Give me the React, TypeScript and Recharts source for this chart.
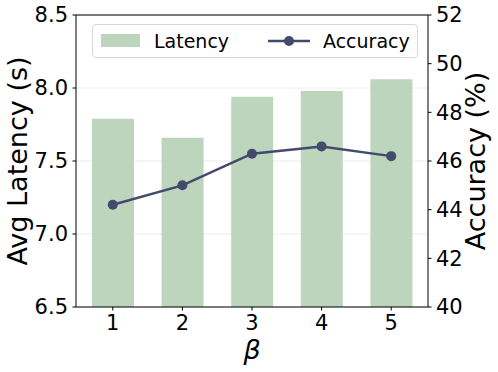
import { Bar, CartesianGrid, ComposedChart, Label, Line, ReferenceLine, XAxis, YAxis } from "recharts";

// values
const betas = ["1", "2", "3", "4", "5"];
const latency = [7.79, 7.66, 7.94, 7.98, 8.06];
const accuracy = [44.2, 45.0, 46.3, 46.6, 46.2];
const latencyTicks = [6.5, 7.0, 7.5, 8.0, 8.5];
const accuracyTicks = [40, 42, 44, 46, 48, 50, 52];
const seriesNames = ["Latency", "Accuracy"];

const barColor = "#bdd4bd";
const lineColor = "#444a6e";
const font = "DejaVu Sans, sans-serif";

const data = betas.map((b, i) => ({ beta: b, Latency: latency[i], Accuracy: accuracy[i] }));

const tickStyle = { fontSize: 21, fill: "#000", fontFamily: font };

// legend drawn as an overlay so it doesn't eat into the plot area
function LegendBox() {
    const txt: any = { position: "absolute", top: 3, fontSize: 19, fontFamily: font, color: "#000", lineHeight: "26px" };
    return (
        <div style={{ position: "absolute", left: 92, top: 24, width: 324, height: 32, border: "1px solid #d6d6d6", borderRadius: 4, background: "rgba(255,255,255,0.85)" }}>
            <div style={{ position: "absolute", left: 8, top: 9, width: 39, height: 13, background: barColor }} />
            <span style={{ ...txt, left: 61 }}>{seriesNames[0]}</span>
            <svg style={{ position: "absolute", left: 174, top: 6 }} width={44} height={20}>
                <line x1={1} y1={10} x2={43} y2={10} stroke={lineColor} strokeWidth={2.5} />
                <circle cx={22} cy={10} r={5} fill={lineColor} />
            </svg>
            <span style={{ ...txt, left: 230 }}>{seriesNames[1]}</span>
        </div>
    );
}

export default function App() {
    return (
        <div style={{ position: "absolute", left: 0, top: 0, width: 498, height: 372, background: "#fff" }}>
            <ComposedChart width={498} height={372} data={data} margin={{ top: 15, right: 0, bottom: 0, left: 0 }}>
                <CartesianGrid yAxisId="left" vertical={false} stroke="#ebebeb" strokeWidth={1} />
                <XAxis dataKey="beta" height={65} padding={{ left: 2, right: 2 }} tick={tickStyle}
                    tickSize={3.5} tickMargin={4.5} axisLine={{ stroke: "#000" }} tickLine={{ stroke: "#000" }}>
                    <Label content={({ viewBox }: any) => (
                        <text x={viewBox.x + viewBox.width / 2} y={viewBox.y + 52} textAnchor="middle"
                            fontSize={27} fontStyle="italic" fontFamily={font} fill="#000">β</text>
                    )} />
                </XAxis>
                <YAxis yAxisId="left" width={76} domain={[6.5, 8.5]} ticks={latencyTicks} interval={0}
                    tickFormatter={(v: number) => v.toFixed(1)} tick={tickStyle} tickSize={3.5} tickMargin={4.5}
                    axisLine={{ stroke: "#000" }} tickLine={{ stroke: "#000" }}>
                    <Label content={({ viewBox }: any) => (
                        <text x={27} y={viewBox.y + viewBox.height / 2} textAnchor="middle" fontSize={27}
                            fontFamily={font} fill="#000" transform={`rotate(-90, 27, ${viewBox.y + viewBox.height / 2})`}>Avg Latency (s)</text>
                    )} />
                </YAxis>
                <YAxis yAxisId="right" orientation="right" width={70} domain={[40, 52]} ticks={accuracyTicks} interval={0}
                    tick={tickStyle} tickSize={3.5} tickMargin={4.5} axisLine={{ stroke: "#000" }} tickLine={{ stroke: "#000" }}>
                    <Label content={({ viewBox }: any) => (
                        <text x={485} y={viewBox.y + viewBox.height / 2} textAnchor="middle" fontSize={27}
                            fontFamily={font} fill="#000" transform={`rotate(-90, 485, ${viewBox.y + viewBox.height / 2})`}>Accuracy (%)</text>
                    )} />
                </YAxis>
                <ReferenceLine yAxisId="left" y={8.5} stroke="#000" strokeWidth={1} />
                <Bar yAxisId="left" dataKey="Latency" name={seriesNames[0]} fill={barColor} barSize={42} isAnimationActive={false} />
                <Line yAxisId="right" dataKey="Accuracy" name={seriesNames[1]} stroke={lineColor} strokeWidth={2.5} type="linear"
                    dot={{ r: 5, fill: lineColor, stroke: lineColor, strokeWidth: 0 }} activeDot={false} isAnimationActive={false} />
            </ComposedChart>
            <LegendBox />
        </div>
    );
}
